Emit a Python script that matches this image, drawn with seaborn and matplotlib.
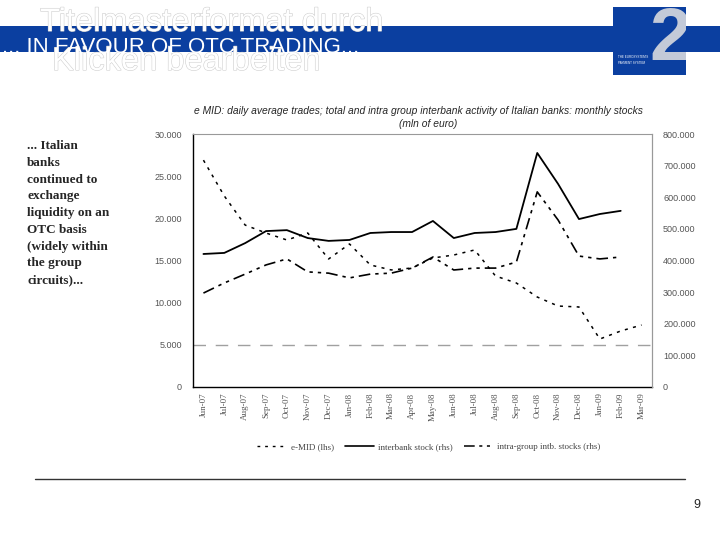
import numpy as np
import matplotlib
matplotlib.use("Agg")
import matplotlib.pyplot as plt
import matplotlib.patheffects as pe
from matplotlib.patches import Rectangle
from matplotlib.lines import Line2D
from matplotlib.ticker import FuncFormatter
import seaborn as sns

# monthly data, Jun-07 .. Mar-09
months = ["Jun-07", "Jul-07", "Aug-07", "Sep-07", "Oct-07", "Nov-07", "Dec-07",
          "Jan-08", "Feb-08", "Mar-08", "Apr-08", "May-08", "Jun-08", "Jul-08",
          "Aug-08", "Sep-08", "Oct-08", "Nov-08", "Dec-08", "Jan-09", "Feb-09", "Mar-09"]
emid = [26900, 22650, 19200, 18260, 17430, 18260, 15180, 16960, 14470, 13880, 14110,
        15300, 15650, 16250, 13160, 12330, 10670, 9600, 9490, 5690, 6640, 7350]
interbank = [420600, 424000, 455000, 493000, 496000, 471000, 462000, 465000, 487000,
             490000, 490000, 525000, 471000, 487000, 490000, 500000, 740000, 642000,
             531000, 547000, 557000, np.nan]
intragroup = [297000, 329000, 357000, 386000, 405000, 364000, 360000, 345000, 357000,
              360000, 376000, 411000, 370000, 376000, 376000, 395000, 617000, 528000,
              414000, 405000, 411000, np.nan]

left_ticks = [0, 5000, 10000, 15000, 20000, 25000, 30000]
right_ticks = [0, 100000, 200000, 300000, 400000, 500000, 600000, 700000, 800000]

sns.set_style("white")
plt.rcParams['font.family'] = ['Liberation Sans', 'DejaVu Sans']

W, H = 720, 540
fig = plt.figure(figsize=(7.2, 5.4), dpi=100, facecolor="white")

# ---- slide header
blue = "#0b3fa0"
fig.patches.append(Rectangle((0, 1 - 52 / H), 1, 26 / H, transform=fig.transFigure,
                             facecolor=blue, edgecolor="none", zorder=1))
ghost = [pe.withStroke(linewidth=0.8, foreground="#cfcfcf")]
fig.text(40 / W, 1 - 31 / H, "Titelmasterformat durch", fontsize=23.5, color="white",
         va="baseline", path_effects=ghost, zorder=3)
fig.text(52 / W, 1 - 70 / H, "Klicken bearbeiten", fontsize=23.5, color="white",
         va="baseline", path_effects=ghost, zorder=3)
fig.text(2 / W, 1 - 53 / H, "... IN FAVOUR OF OTC TRADING...", fontsize=16,
         color="white", va="baseline", zorder=4)

logo = Rectangle((613 / W, 1 - 75 / H), 73 / W, 68 / H, transform=fig.transFigure,
                 facecolor=blue, edgecolor="none", zorder=2)
fig.patches.append(logo)
two = fig.text(670 / W, 1 - 40 / H, "2", fontsize=54, fontweight="bold",
               color="#c3cad8", ha="center", va="center", zorder=3)
two.set_clip_path(logo)
fig.text(618 / W, 1 - 60 / H, "THE EUROSYSTEM'S\nPAYMENT SYSTEM", fontsize=2.2,
         color="white", va="center", zorder=4, linespacing=1.4)

# ---- side comment
fig.text(27 / W, 1 - 140 / H,
         "... Italian\nbanks\ncontinued to\nexchange\nliquidity on an\nOTC basis\n"
         "(widely within\nthe group\ncircuits)...",
         family=["Liberation Serif"], fontweight="bold", fontsize=9.5,
         va="top", linespacing=1.53)

# ---- chart
ax = fig.add_axes([193 / W, 1 - 387 / H, (652 - 193) / W, (387 - 134) / H])
ax2 = ax.twinx()
x = np.arange(len(months))

ax.axhline(5000, color="#a0a0a0", lw=1.0, dashes=(9, 7), zorder=1)
sns.lineplot(x=x, y=emid, ax=ax, color="black", lw=1.1, linestyle=(0, (2, 3.5)))
sns.lineplot(x=x, y=interbank, ax=ax2, color="black", lw=1.3)
sns.lineplot(x=x, y=intragroup, ax=ax2, color="black", lw=1.2,
             linestyle=(0, (7, 3, 2, 3, 2, 3)))

ax.set_xlim(-0.5, len(months) - 0.5)
ax.set_ylim(0, 30000)
ax2.set_ylim(0, 800000)
ax.set_yticks(left_ticks)
ax2.set_yticks(right_ticks)
dotfmt = FuncFormatter(lambda v, p: f"{int(v):,}".replace(",", "."))
ax.yaxis.set_major_formatter(dotfmt)
ax2.yaxis.set_major_formatter(dotfmt)
ax.set_xticks(x)
ax.set_xticklabels(months, rotation=90, family=["Liberation Serif"], fontsize=6.5,
                   color="#555555")
ax.set_xticks([5.5, 17.5], minor=True)
ax.tick_params(axis="x", which="major", length=0, pad=4)
ax.tick_params(axis="x", which="minor", length=4, direction="in", color="black")
ax.tick_params(axis="y", length=0, labelsize=6.5, labelcolor="#555555", pad=8)
ax2.tick_params(axis="y", length=0, labelsize=6.5, labelcolor="#555555", pad=8)
ax2.set_yticks([600000], minor=True)
ax2.tick_params(axis="y", which="minor", length=4, direction="out", color="#555555")
ax.set_xlabel("")
ax.set_ylabel("")
ax2.set_ylabel("")

for s in ["left", "bottom"]:
    ax.spines[s].set_color("black")
    ax.spines[s].set_linewidth(1.0)
for s in ["top", "right"]:
    ax.spines[s].set_color("#999999")
    ax.spines[s].set_linewidth(0.8)
for s in ["left", "bottom", "top"]:
    ax2.spines[s].set_visible(False)
ax2.spines["right"].set_color("#999999")
ax2.spines["right"].set_linewidth(0.8)

fig.text(418 / W, 1 - 111 / H,
         "e MID: daily average trades; total and intra group interbank activity "
         "of Italian banks: monthly stocks",
         fontsize=7.4, style="italic", ha="center", va="center")
fig.text(428 / W, 1 - 124 / H, "(mln of euro)", fontsize=7.4, style="italic",
         ha="center", va="center")

handles = [Line2D([], [], color="black", lw=1.0, linestyle=(0, (2, 3.5))),
           Line2D([], [], color="black", lw=1.2),
           Line2D([], [], color="black", lw=1.1, linestyle=(0, (7, 3, 2, 3, 2, 3)))]
labels = ["e-MID (lhs)", "interbank stock (rhs)", "intra-group intb. stocks (rhs)"]
fig.legend(handles, labels, loc="center", bbox_to_anchor=(429 / W, 1 - 447 / H),
           ncol=3, frameon=False, handlelength=3.2, columnspacing=1.2,
           handletextpad=0.5, prop={"family": "Liberation Serif", "size": 6.5},
           labelcolor="#444444")

# ---- footer
fig.add_artist(Line2D([35 / W, 685 / W], [1 - 479 / H, 1 - 479 / H],
                      transform=fig.transFigure, color="#333333", lw=1.0))
fig.text(697 / W, 1 - 505 / H, "9", fontsize=9, ha="center", va="center")

fig.savefig("out.png", dpi=100)
